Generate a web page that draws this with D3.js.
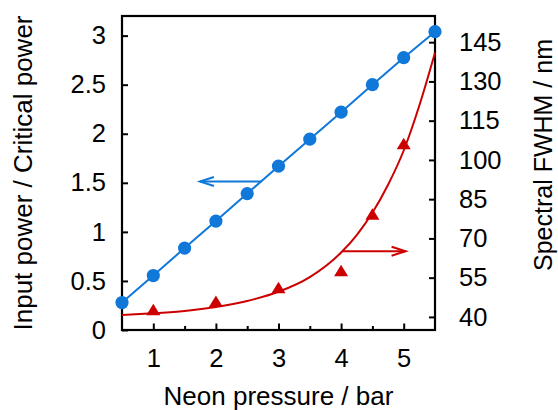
<!DOCTYPE html>
<html>
<head>
<meta charset="utf-8">
<script src="https://cdn.jsdelivr.net/npm/d3@7"></script>
<style>
  html, body { margin: 0; padding: 0; background: #fff; }
  svg { display: block; }
  text { font-family: "Liberation Sans", Arial, Helvetica, sans-serif; fill: #000; }
</style>
</head>
<body>
<svg id="chart" width="558" height="410"></svg>
<script>
// Neon pressure (bar) for the input-power series
const pressure = [0.5, 1, 1.5, 2, 2.5, 3, 3.5, 4, 4.5, 5, 5.5];
// Input power normalised to the critical power (left axis)
const powerRatio = [0.28, 0.555, 0.835, 1.11, 1.39, 1.67, 1.945, 2.22, 2.50, 2.775, 3.04];

// Measured spectral FWHM (nm, right axis)
const fwhmPressure = [1, 2, 3, 4, 4.5, 5];
const fwhm = [42.8, 46.0, 51.2, 57.7, 79.3, 106.3];

// Trend curve through the FWHM data (nm)
const trendPressure = [0.5, 1, 1.5, 2, 2.5, 3, 3.5, 4, 4.25, 4.5, 4.75, 5, 5.25, 5.5];
const trendFwhm = [40.7, 41.4, 42.3, 43.8, 46.1, 49.6, 55.2, 64.6, 71.3, 79.8, 90.5, 103.6, 120.8, 141];

// Axis ticks and labels
const xTicks = [1, 2, 3, 4, 5];
const xMinorTicks = [1.5, 2.5, 3.5, 4.5];
const leftTicks = [0, 0.5, 1, 1.5, 2, 2.5, 3];
const leftTickLabels = ["0", "0.5", "1", "1.5", "2", "2.5", "3"];
const rightTicks = [40, 55, 70, 85, 100, 115, 130, 145];

// Arrows pointing each series to its axis: [pressure, value]
const blueArrow = { from: [2.73, 1.513], to: [1.745, 1.513] };
const redArrow = { from: [4.02, 65.1], to: [5.03, 65.1] };

const BLUE = "#0f78d8";
const RED = "#cc0000";

const svg = d3.select("#chart");
const frame = { left: 122, right: 435, top: 16, bottom: 330 };

const x = d3.scaleLinear().domain([0.5, 5.5]).range([frame.left, frame.right]);
const yL = d3.scaleLinear().domain([0, 3.2]).range([frame.bottom, frame.top]);
const yR = d3.scaleLinear().domain([35, 155]).range([frame.bottom, frame.top]);

// Axes with inward ticks
const gx = svg.append("g").attr("transform", `translate(0,${frame.bottom})`)
  .call(d3.axisBottom(x).tickValues(xTicks).tickSize(-6.5).tickPadding(19).tickFormat(d3.format("d")));
const gxm = svg.append("g").attr("transform", `translate(0,${frame.bottom})`)
  .call(d3.axisBottom(x).tickValues(xMinorTicks).tickSize(-4).tickFormat(""));
const gl = svg.append("g").attr("transform", `translate(${frame.left},0)`)
  .call(d3.axisLeft(yL).tickValues(leftTicks).tickSize(-6).tickPadding(16)
    .tickFormat((d, i) => leftTickLabels[i]));
const gr = svg.append("g").attr("transform", `translate(${frame.right},0)`)
  .call(d3.axisRight(yR).tickValues(rightTicks).tickSize(-6).tickPadding(24).tickFormat(d3.format("d")));

[gx, gxm, gl, gr].forEach(g => {
  g.select(".domain").remove();
  g.selectAll(".tick line").attr("stroke", "#000").attr("stroke-width", 2);
  g.selectAll(".tick text").style("font-size", "25.5px").attr("fill", "#000")
    .style("font-family", "'Liberation Sans', Arial, sans-serif");
});

// Plot frame
svg.append("rect")
  .attr("x", frame.left).attr("y", frame.top)
  .attr("width", frame.right - frame.left).attr("height", frame.bottom - frame.top)
  .attr("fill", "none").attr("stroke", "#000").attr("stroke-width", 2.2);

// Axis titles
svg.append("text")
  .attr("x", (frame.left + frame.right) / 2).attr("y", 405)
  .attr("text-anchor", "middle").style("font-size", "26px")
  .text("Neon pressure / bar");
svg.append("text")
  .attr("transform", "translate(32,173) rotate(-90)")
  .attr("text-anchor", "middle").style("font-size", "26px")
  .text("Input power / Critical power");
svg.append("text")
  .attr("transform", "translate(552,155) rotate(-90)")
  .attr("text-anchor", "middle").style("font-size", "25px")
  .text("Spectral FWHM / nm");

// FWHM trend curve
svg.append("path")
  .datum(trendPressure.map((p, i) => [p, trendFwhm[i]]))
  .attr("fill", "none").attr("stroke", RED).attr("stroke-width", 2)
  .attr("d", d3.line().x(d => x(d[0])).y(d => yR(d[1])).curve(d3.curveMonotoneX));

// FWHM markers (filled triangles, 14 px wide, 11.5 px tall, centred on the value)
const triPath = "M0,-5.75 L7,5.75 L-7,5.75 Z";
svg.append("g").selectAll("path")
  .data(fwhmPressure.map((p, i) => [p, fwhm[i]]))
  .join("path")
  .attr("d", triPath)
  .attr("fill", RED)
  .attr("transform", d => `translate(${x(d[0])},${yR(d[1])})`);

// Input power line and markers
svg.append("path")
  .datum(pressure.map((p, i) => [p, powerRatio[i]]))
  .attr("fill", "none").attr("stroke", BLUE).attr("stroke-width", 2)
  .attr("d", d3.line().x(d => x(d[0])).y(d => yL(d[1])));
svg.append("g").selectAll("circle")
  .data(pressure.map((p, i) => [p, powerRatio[i]]))
  .join("circle")
  .attr("cx", d => x(d[0])).attr("cy", d => yL(d[1]))
  .attr("r", 6.6).attr("fill", BLUE);

// Arrows with open heads
function arrow(a, yScale, color) {
  const x0 = x(a.from[0]), y0 = yScale(a.from[1]);
  const x1 = x(a.to[0]), y1 = yScale(a.to[1]);
  const dir = Math.sign(x1 - x0);
  const g = svg.append("g").attr("stroke", color).attr("stroke-width", 2).attr("fill", "none");
  g.append("line").attr("x1", x0).attr("y1", y0).attr("x2", x1).attr("y2", y1);
  g.append("path")
    .attr("stroke-linejoin", "miter")
    .attr("d", `M${x1 - dir * 14},${y1 - 4.5} L${x1},${y1} L${x1 - dir * 14},${y1 + 4.5}`);
}
arrow(blueArrow, yL, BLUE);
arrow(redArrow, yR, RED);
</script>
</body>
</html>
